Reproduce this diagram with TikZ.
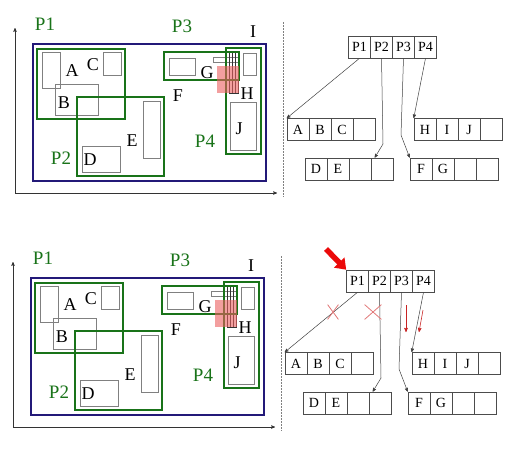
\documentclass[tikz,border=0pt]{standalone}
\usepackage{fontspec}
\setmainfont{Liberation Serif}
\usetikzlibrary{shapes,arrows,arrows.meta,positioning,calc}

\definecolor{pgreen}{RGB}{25,115,25}
\definecolor{pblue}{RGB}{35,25,120}
\definecolor{pred}{RGB}{235,95,95}
\definecolor{xred}{RGB}{225,120,120}

\begin{document}
\begin{tikzpicture}[x=1pt,y=-1pt,>=stealth',node distance=22pt,
  cell/.style={rectangle,draw=black!70,line width=0.6pt,minimum width=22pt,
    minimum height=22pt,inner sep=0pt,font=\fontsize{14}{14}\selectfont},
  part/.style={draw=pgreen,line width=1.8pt},
  obj/.style={draw=black!50,line width=0.6pt},
  plabel/.style={text=pgreen,font=\fontsize{19}{19}\selectfont},
  olabel/.style={font=\fontsize{18}{18}\selectfont},
  link/.style={->,draw=black!75,line width=0.5pt}]

  \useasboundingbox (0,0) rectangle (529,450);

  \foreach \dx/\dy/\k in {0/0/a,-2/234/b} {
  \begin{scope}[shift={(\dx,\dy)}]
    % axes
    \coordinate (o\k) at (15,193);
    \coordinate (yend\k) at (15,28);
    \coordinate (xend\k) at (277,193);
    \draw[<->,black!80,line width=0.5pt] (yend\k) -- (o\k) -- (xend\k);

    % space, objects, partitions
    \draw[draw=pblue,line width=1.5pt] (33,44) rectangle (266,181);
    \draw[obj] (42,52) rectangle (60,88);
    \draw[obj] (103,52) rectangle (121,75);
    \draw[obj] (55,84) rectangle (98,115);
    \draw[obj] (143,101) rectangle (160,158);
    \draw[obj] (82,146) rectangle (120,172);
    \draw[obj] (169,58) rectangle (195,75);
    \draw[obj] (243,53) rectangle (256,75);
    \draw[obj] (230,102) rectangle (256,150);
    \draw[obj] (213,57) rectangle (238,62);
    \draw[obj,draw=black!80] (229,52) rectangle (238,93)
      (232,52) -- (232,93) (235,52) -- (235,93);
    \draw[part] (37,49) rectangle (125,119);
    \draw[part] (77,97) rectangle (164,176);
    \draw[part] (164,52) rectangle (239,80);
    \draw[part] (226,48) rectangle (261,154);
    \fill[pred,opacity=0.6] (217,66) rectangle (239,93);

    \node[plabel] (lp1\k) at (45,24) {P1};
    \node[plabel] (lp2\k) at (61,158) {P2};
    \node[plabel] (lp3\k) at (182,26) {P3};
    \node[plabel] (lp4\k) at (205,141) {P4};
    \node[olabel] (la\k) at (72,71) {A};
    \node[olabel] (lb\k) at (64,103) {B};
    \node[olabel] (lc\k) at (93,65) {C};
    \node[olabel] (ld\k) at (90,160) {D};
    \node[olabel] (le\k) at (132,141) {E};
    \node[olabel] (lf\k) at (178,96) {F};
    \node[olabel] (lg\k) at (207,73) {G};
    \node[olabel] (lh\k) at (247,94) {H};
    \node[olabel] (li\k) at (253,32) {I};
    \node[olabel] (lj\k) at (239,129) {J};

    \draw[black!50,line width=0.6pt,dash pattern=on 2pt off 1pt] (283,22) -- (283,197);

    % R-tree nodes
    \node[cell] (t1\k) at (359.5,47) {P1};
    \node[cell] (t2\k) [right of=t1\k] {P2};
    \node[cell] (t3\k) [right of=t2\k] {P3};
    \node[cell] (t4\k) [right of=t3\k] {P4};

    \node[cell] (a1\k) at (298,129.5) {A};
    \node[cell] (a2\k) [right of=a1\k] {B};
    \node[cell] (a3\k) [right of=a2\k] {C};
    \node[cell] (a4\k) [right of=a3\k] {};

    \node[cell] (h1\k) at (425,129.5) {H};
    \node[cell] (h2\k) [right of=h1\k] {I};
    \node[cell] (h3\k) [right of=h2\k] {J};
    \node[cell] (h4\k) [right of=h3\k] {};

    \node[cell] (d1\k) at (316,169) {D};
    \node[cell] (d2\k) [right of=d1\k] {E};
    \node[cell] (d3\k) [right of=d2\k] {};
    \node[cell] (d4\k) [right of=d3\k] {};

    \node[cell] (f1\k) at (421,169) {F};
    \node[cell] (f2\k) [right of=f1\k] {G};
    \node[cell] (f3\k) [right of=f2\k] {};
    \node[cell] (f4\k) [right of=f3\k] {};

    \coordinate (b2\k) at (383,144);
    \coordinate (b3\k) at (401,135);
    \draw[link] (t1\k.south) -- (a1\k.north west);
    \draw[link] (t2\k.south) -- (b2\k) -- ($(d4\k.north west)+(4,0)$);
    \draw[link] (t3\k.south) -- (b3\k) -- (f1\k.north west);
    \draw[link] (t4\k.south) -- (h1\k.north west);
  \end{scope}
  }

  % query on the lower tree
  \coordinate (tail) at (326,249);
  \draw[draw={rgb,255:red,235;green,10;blue,10},line width=5.5pt,
    -{Triangle[width=14pt,length=10pt]}] (tail) -- (t1b.north west);

  \node[cross out,draw=xred,line width=0.8pt,minimum width=10pt,
    minimum height=14pt,inner sep=0pt] (x1) at (333,312) {};
  \node[cross out,draw=xred,line width=0.8pt,minimum width=16pt,
    minimum height=14pt,inner sep=0pt] (x2) at (373,312) {};

  \coordinate (r1s) at (406,305);
  \coordinate (r1e) at (406,332);
  \coordinate (r2s) at (423,310);
  \coordinate (r2e) at (419,332);
  \draw[->,draw={rgb,255:red,200;green,35;blue,35},line width=0.6pt] (r1s) -- (r1e);
  \draw[->,draw={rgb,255:red,200;green,35;blue,35},line width=0.6pt] (r2s) -- (r2e);
\end{tikzpicture}
\end{document}
